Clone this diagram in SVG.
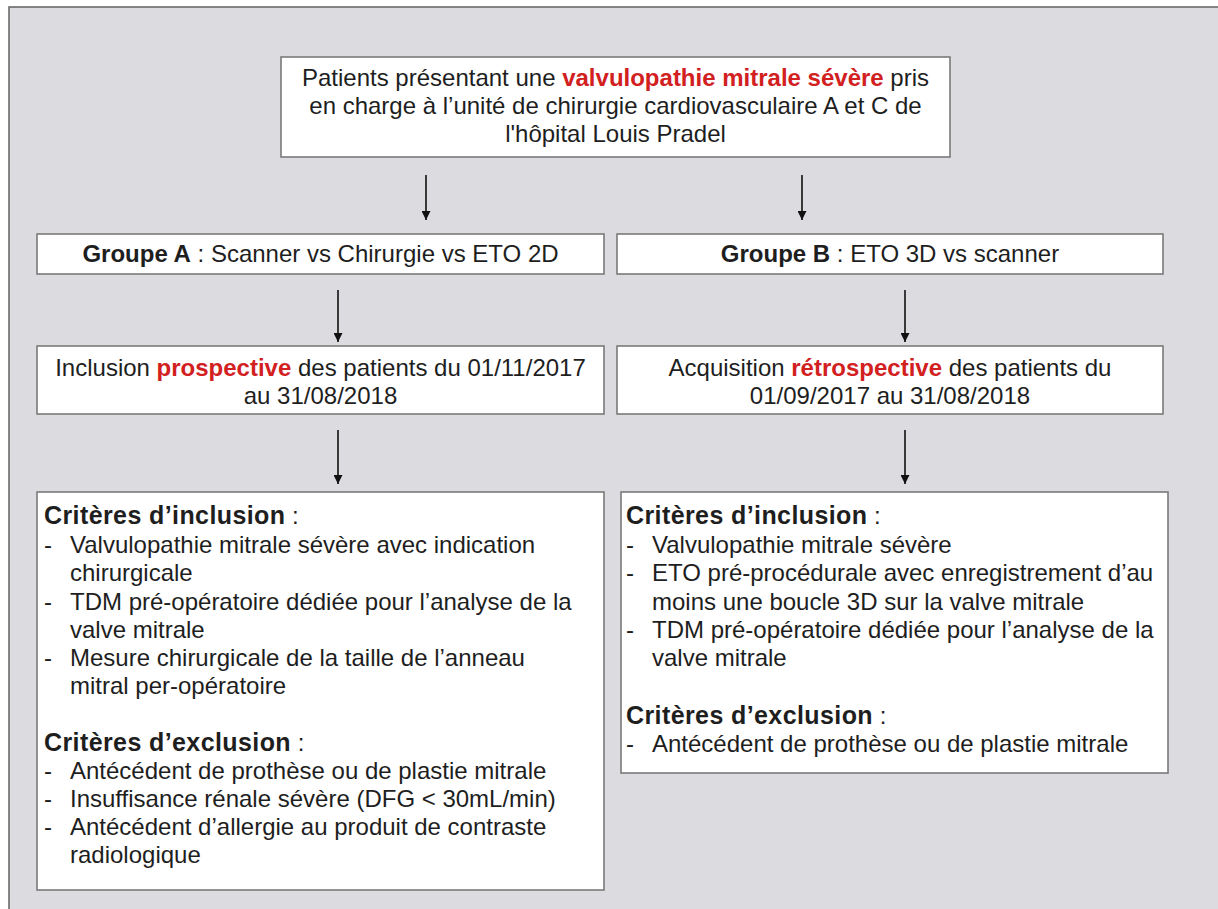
<svg xmlns="http://www.w3.org/2000/svg" width="1218" height="909" viewBox="0 0 1218 909">
  <style>
    text { font-family: "Liberation Sans", Arial, Helvetica, sans-serif; font-size: 24px; fill: #1e1e1e; }
    .b { font-weight: bold; }
    .h { font-weight: bold; font-size: 25px; letter-spacing: 0.4px; }
    .red { fill: #d2201f; font-weight: bold; }
    .mid { text-anchor: middle; }
    .box { fill: #ffffff; stroke: #7a7a7a; stroke-width: 1.6; }
    .edge { stroke: #111111; stroke-width: 1.6; fill: none; marker-end: url(#head); }
  </style>
  <defs>
    <marker id="head" viewBox="0 0 10 10" refX="10" refY="5" markerWidth="12" markerHeight="9" orient="auto" markerUnits="userSpaceOnUse">
      <path d="M0,0 L10,5 L0,10 Z" fill="#111111"/>
    </marker>
  </defs>

  <!-- page background and outer frame -->
  <rect x="0" y="0" width="1218" height="909" fill="#ffffff"/>
  <rect x="9" y="7" width="1230" height="920" fill="#dcdce0" stroke="#6a6a6a" stroke-width="1.6"/>

  <!-- connectors -->
  <g id="connectors">
    <line class="edge" x1="426" y1="175" x2="426" y2="220"/>
    <line class="edge" x1="802" y1="175" x2="802" y2="220"/>
    <line class="edge" x1="338" y1="290" x2="338" y2="342"/>
    <line class="edge" x1="905" y1="290" x2="905" y2="342"/>
    <line class="edge" x1="338" y1="430" x2="338" y2="484"/>
    <line class="edge" x1="905" y1="430" x2="905" y2="484"/>
  </g>

  <!-- population -->
  <g id="population">
    <rect class="box" x="281" y="57" width="669" height="100"/>
    <text class="mid" x="615.5" y="86">Patients présentant une <tspan class="red">valvulopathie mitrale sévère</tspan> pris</text>
    <text class="mid" x="615.5" y="114">en charge à l’unité de chirurgie cardiovasculaire A et C de</text>
    <text class="mid" x="615.5" y="142">l'hôpital Louis Pradel</text>
  </g>

  <!-- group A -->
  <g id="groupe-a">
    <rect class="box" x="37" y="234" width="567" height="40"/>
    <text class="mid" x="320.5" y="262"><tspan class="b">Groupe A</tspan> : Scanner vs Chirurgie vs ETO 2D</text>
  </g>

  <!-- group B -->
  <g id="groupe-b">
    <rect class="box" x="617" y="234" width="546" height="40"/>
    <text class="mid" x="890" y="262"><tspan class="b">Groupe B</tspan> : ETO 3D vs scanner</text>
  </g>

  <!-- recruitment A -->
  <g id="inclusion-a">
    <rect class="box" x="37" y="346" width="567" height="68"/>
    <text class="mid" x="320.5" y="376">Inclusion <tspan class="red">prospective</tspan> des patients du 01/11/2017</text>
    <text class="mid" x="320.5" y="404">au 31/08/2018</text>
  </g>

  <!-- recruitment B -->
  <g id="inclusion-b">
    <rect class="box" x="617" y="346" width="546" height="68"/>
    <text class="mid" x="890" y="376">Acquisition <tspan class="red">rétrospective</tspan> des patients du</text>
    <text class="mid" x="890" y="404">01/09/2017 au 31/08/2018</text>
  </g>

  <!-- criteria A -->
  <g id="criteres-a">
    <rect class="box" x="37" y="492" width="567" height="398"/>
    <text x="44" y="524"><tspan class="h">Critères d’inclusion</tspan> :</text>
    <text x="44" y="553">-</text><text x="70" y="553">Valvulopathie mitrale sévère avec indication</text>
    <text x="70" y="581">chirurgicale</text>
    <text x="44" y="610">-</text><text x="70" y="610">TDM pré-opératoire dédiée pour l’analyse de la</text>
    <text x="70" y="638">valve mitrale</text>
    <text x="44" y="666">-</text><text x="70" y="666">Mesure chirurgicale de la taille de l’anneau</text>
    <text x="70" y="694">mitral per-opératoire</text>
    <text x="44" y="751"><tspan class="h">Critères d’exclusion</tspan> :</text>
    <text x="44" y="779">-</text><text x="70" y="779">Antécédent de prothèse ou de plastie mitrale</text>
    <text x="44" y="807">-</text><text x="70" y="807">Insuffisance rénale sévère (DFG &lt; 30mL/min)</text>
    <text x="44" y="835">-</text><text x="70" y="835">Antécédent d’allergie au produit de contraste</text>
    <text x="70" y="863">radiologique</text>
  </g>

  <!-- criteria B -->
  <g id="criteres-b">
    <rect class="box" x="621" y="492" width="547" height="281"/>
    <text x="626" y="524"><tspan class="h">Critères d’inclusion</tspan> :</text>
    <text x="626" y="553">-</text><text x="652" y="553">Valvulopathie mitrale sévère</text>
    <text x="626" y="581">-</text><text x="652" y="581">ETO pré-procédurale avec enregistrement d’au</text>
    <text x="652" y="610">moins une boucle 3D sur la valve mitrale</text>
    <text x="626" y="638">-</text><text x="652" y="638">TDM pré-opératoire dédiée pour l’analyse de la</text>
    <text x="652" y="666">valve mitrale</text>
    <text x="626" y="724"><tspan class="h">Critères d’exclusion</tspan> :</text>
    <text x="626" y="752">-</text><text x="652" y="752">Antécédent de prothèse ou de plastie mitrale</text>
  </g>
</svg>
